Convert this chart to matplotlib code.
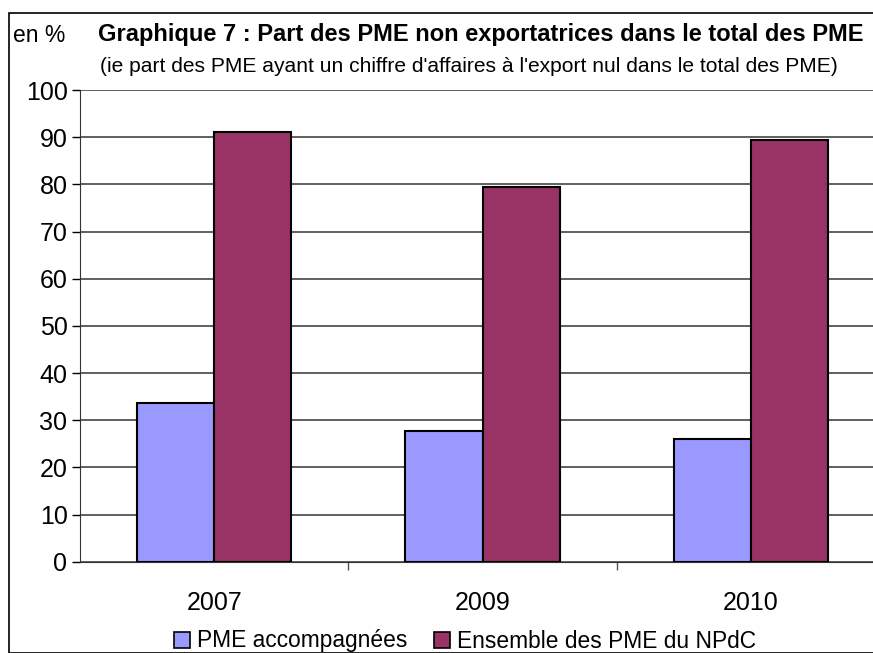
import matplotlib.pyplot as plt
from matplotlib.patches import Patch, Rectangle
import numpy as np

years = ["2007", "2009", "2010"]
pme_accompagnees = [33.6, 27.8, 26.1]
ensemble_npdc = [91.2, 79.4, 89.4]
series_names = ["PME accompagnées", "Ensemble des PME du NPdC"]
colors = ["#9999FF", "#993366"]

plt.rcParams["font.family"] = ["Liberation Sans", "DejaVu Sans"]

W, H = 873, 653
fig = plt.figure(figsize=(W / 100, H / 100), dpi=100)

# plot area (runs off the right edge like in the original)
left, right, bottom, top = 80, 885, 561.7, 90
ax = fig.add_axes([left / W, 1 - bottom / H, (right - left) / W, (bottom - top) / H])

x = np.arange(len(years))
bw = 0.287
ax.bar(x - bw / 2, pme_accompagnees, bw, color=colors[0], edgecolor="black", linewidth=1.5, zorder=3)
ax.bar(x + bw / 2, ensemble_npdc, bw, color=colors[1], edgecolor="black", linewidth=1.5, zorder=3)

ax.set_xlim(-0.5, len(years) - 0.5)
ax.set_ylim(0, 100)
ax.set_yticks(range(0, 101, 10))
ax.yaxis.grid(True, color="#444444", linewidth=1.2, zorder=0)
ax.tick_params(axis="y", labelsize=18, length=6, width=1, direction="out", pad=3)

ax.set_xticks(x)
ax.set_xticklabels(years)
ax.set_xticks(np.arange(0.5, len(years) - 0.5, 1), minor=True)
ax.tick_params(axis="x", which="major", length=0, labelsize=18, pad=21)
ax.tick_params(axis="x", which="minor", length=6, width=1, color="#555555")

for s in ["top", "right"]:
    ax.spines[s].set_visible(False)
ax.spines["left"].set_color("#333333")
ax.spines["bottom"].set_color("#333333")

# outer frame
fig.patches.append(Rectangle((9 / W, 0.5 / H), 1.2, (H - 13.5) / H, transform=fig.transFigure,
                             fill=False, edgecolor="black", linewidth=1.2))

fig.text(13 / W, 1 - 35 / H, "en %", fontsize=16.5, va="center", ha="left")
fig.text(98 / W, 1 - 35 / H, "Graphique 7 : Part des PME non exportatrices dans le total des PME",
         fontsize=17, fontweight="bold", va="center", ha="left")
fig.text(100 / W, 1 - 66 / H,
         "(ie part des PME ayant un chiffre d'affaires à l'export nul dans le total des PME)",
         fontsize=15.1, va="center", ha="left")

handles = [Patch(facecolor=c, edgecolor="black", linewidth=1.2) for c in colors]
fig.legend(handles, series_names, loc="center", bbox_to_anchor=(465 / W, 1 - 641 / H), ncol=2,
           frameon=False, fontsize=16.4, handlelength=0.7, handleheight=0.7,
           handletextpad=0.3, columnspacing=1.2, borderpad=0)

fig.savefig("out.png", dpi=100)
